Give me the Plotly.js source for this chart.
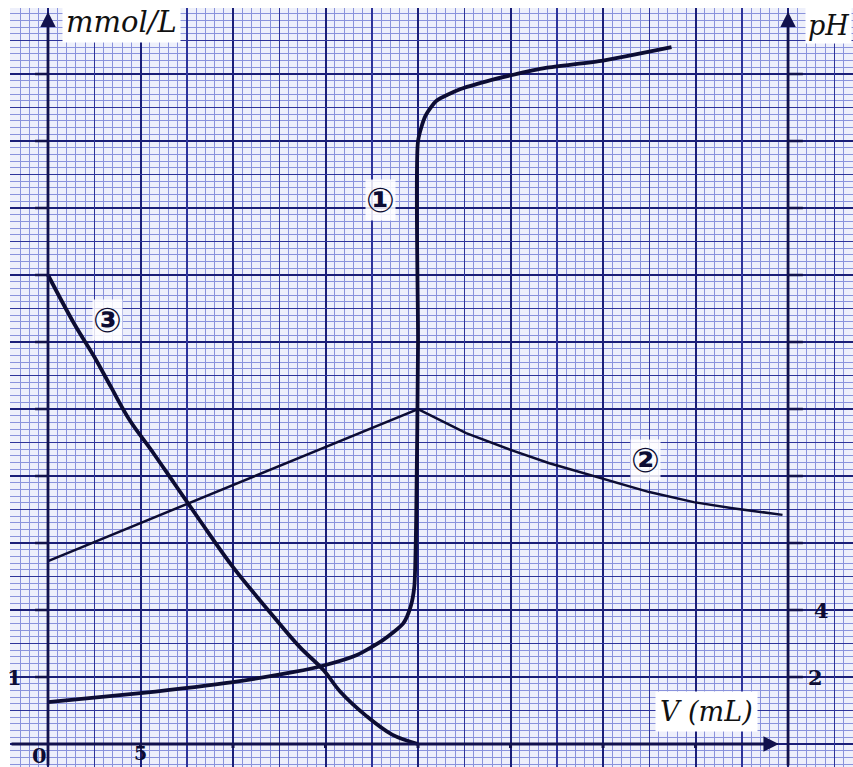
<!DOCTYPE html>
<html>
<head>
<meta charset="utf-8">
<script src="https://cdn.plot.ly/plotly-3.0.1.min.js"></script>
<style>html,body{margin:0;padding:0;background:#fff;}#chart{width:853px;height:767px;}</style>
</head>
<body>
<div id="chart"></div>
<script>
// Volume of titrant added (mL)
const volPH = [0, 5, 10, 13.3, 15, 16.7, 18.1, 19.2, 19.6, 19.8, 19.9, 20.0, 20.0, 20.4, 21.0, 22.3, 23.7, 25.1, 26.9, 30.0, 33.7];
// Curve 1: pH (right axis)
const pH = [1.25, 1.52, 1.85, 2.15, 2.36, 2.66, 3.1, 3.6, 4.1, 4.7, 6.7, 12.0, 18.0, 18.75, 19.2, 19.55, 19.78, 19.97, 20.18, 20.4, 20.8];

const vol2 = [0, 20, 22.6, 25, 27.1, 29.8, 32.5, 34.9, 37, 39.7];
// Curve 2: concentration (mmol/L, left axis)
const conc2 = [2.73, 5.0, 4.64, 4.39, 4.19, 3.97, 3.76, 3.61, 3.52, 3.42];

const vol3 = [0, 1.4, 2.5, 3.4, 4.4, 5.7, 6.8, 8.2, 10, 12.2, 13.6, 14.9, 15.8, 17.2, 18.6, 20];
// Curve 3: concentration (mmol/L, left axis)
const conc3 = [7.0, 6.28, 5.78, 5.33, 4.84, 4.34, 3.9, 3.34, 2.64, 1.9, 1.45, 1.1, 0.78, 0.42, 0.14, 0.0];

const curveLabels = ['\u2460', '\u2461', '\u2462'];
const xTickLabels = ['0', '5'];
const xTickVals = [0, 5];
const leftTickLabels = ['1'];
const leftTickVals = [1];
const rightTickLabels = ['2', '4'];
const rightTickVals = [2, 4];

const ink = '#0c0c33';
const axisInk = '#12124d';

const xr = [-2.054, 43.51];
const yr = [-0.343, 10.985];
const y2r = [yr[0] * 2, yr[1] * 2];

const traces = [
  {x: vol3, y: conc3, mode: 'lines', line: {color: ink, width: 3.8, shape: 'spline', smoothing: 1}, xaxis: 'x', yaxis: 'y', hoverinfo: 'skip'},
  {x: vol2, y: conc2, mode: 'lines', line: {color: ink, width: 2.5}, xaxis: 'x', yaxis: 'y', hoverinfo: 'skip'},
  {x: volPH, y: pH, mode: 'lines', line: {color: ink, width: 3.8, shape: 'spline', smoothing: 0.6}, xaxis: 'x2', yaxis: 'y2', hoverinfo: 'skip'}
];

const shapes = [];
for (let k = 1; k <= 10; k++) {
  shapes.push({type: 'line', xref: 'x', yref: 'y', x0: -0.7, x1: 0, y0: k, y1: k, line: {color: axisInk, width: 2.5}});
  shapes.push({type: 'line', xref: 'x', yref: 'y', x0: 40, x1: 0.8 + 40, y0: k, y1: k, line: {color: axisInk, width: 2.5}});
}
for (let v = 5; v <= 35; v += 5) {
  shapes.push({type: 'line', xref: 'x', yref: 'y', x0: v, x1: v, y0: 0, y1: -0.06, line: {color: axisInk, width: 3}});
}

const serif = 'DejaVu Serif, Liberation Serif, serif';
const hand = {family: serif, size: 21, color: ink, weight: 'bold'};
const handSmall = {family: serif, size: 19, color: ink, weight: 'bold'};
const circ = {family: 'DejaVu Sans', size: 34, color: ink, weight: 'bold'};
const annotations = [
  // axes arrows
  {x: 0, y: 10.93, ax: 0, ay: yr[0], xref: 'x', yref: 'y', axref: 'x', ayref: 'y', text: '', showarrow: true, arrowhead: 2, arrowsize: 1.1, arrowwidth: 2.8, arrowcolor: axisInk, standoff: 0},
  {x: 40, y: 10.93, ax: 40, ay: yr[0], xref: 'x', yref: 'y', axref: 'x', ayref: 'y', text: '', showarrow: true, arrowhead: 2, arrowsize: 1.1, arrowwidth: 2.8, arrowcolor: axisInk, standoff: 0},
  {x: 39.5, y: 0, ax: xr[0], ay: 0, xref: 'x', yref: 'y', axref: 'x', ayref: 'y', text: '', showarrow: true, arrowhead: 2, arrowsize: 1.1, arrowwidth: 2.8, arrowcolor: axisInk, standoff: 0},
  // axis titles
  {x: 0.75, y: 10.77, xref: 'x', yref: 'y', xanchor: 'left', yanchor: 'middle', text: '<i>mmol/L</i>', showarrow: false, font: {family: serif, size: 29, color: '#111'}, bgcolor: '#ffffff', borderpad: 3},
  {x: 40.9, y: 10.72, xref: 'x', yref: 'y', xanchor: 'left', yanchor: 'middle', text: '<i>pH</i>', showarrow: false, font: {family: serif, size: 27, color: '#111'}, bgcolor: '#ffffff', borderpad: 2},
  {x: 35.6, y: 0.48, xref: 'x', yref: 'y', xanchor: 'center', yanchor: 'middle', text: '<i>V (mL)</i>', showarrow: false, font: {family: serif, size: 27, color: '#111'}, bgcolor: '#ffffff', borderpad: 4},
  // tick labels
  {x: xTickVals[0] - 0.45, y: -0.17, xref: 'x', yref: 'y', text: xTickLabels[0], showarrow: false, font: hand},
  {x: xTickVals[1], y: -0.14, xref: 'x', yref: 'y', yanchor: 'middle', text: xTickLabels[1], showarrow: false, font: handSmall},
  {x: -1.8, y: leftTickVals[0], xref: 'x', yref: 'y', text: leftTickLabels[0], showarrow: false, font: hand},
  {x: 41.5, y: rightTickVals[0], xref: 'x', yref: 'y2', text: rightTickLabels[0], showarrow: false, font: hand},
  {x: 41.8, y: rightTickVals[1], xref: 'x', yref: 'y2', text: rightTickLabels[1], showarrow: false, font: hand},
  // curve labels
  {x: 17.95, y: 8.12, xref: 'x', yref: 'y', text: curveLabels[0], showarrow: false, font: circ, bgcolor: 'rgba(255,255,255,0.85)', borderpad: 0},
  {x: 32.3, y: 4.24, xref: 'x', yref: 'y', text: curveLabels[1], showarrow: false, font: circ, bgcolor: 'rgba(255,255,255,0.85)', borderpad: 0},
  {x: 3.24, y: 6.33, xref: 'x', yref: 'y', text: curveLabels[2], showarrow: false, font: circ, bgcolor: 'rgba(255,255,255,0.85)', borderpad: 0}
];

const hidden = {showticklabels: false, ticks: '', zeroline: false, showline: false, fixedrange: true};
const layout = {
  width: 853, height: 767,
  margin: {l: 10, r: 0, t: 8, b: 0, pad: 0},
  paper_bgcolor: '#ffffff',
  plot_bgcolor: '#eef0fb',
  showlegend: false,
  xaxis: Object.assign({}, hidden, {range: xr, tick0: 0, dtick: 5, showgrid: true, gridcolor: '#1b1f78', gridwidth: 2,
    minor: {tick0: 0, dtick: 0.5, showgrid: true, gridcolor: '#8a93dc', gridwidth: 1}}),
  yaxis: Object.assign({}, hidden, {range: yr, tick0: 0, dtick: 1, showgrid: true, gridcolor: '#1b1f78', gridwidth: 2,
    minor: {tick0: 0, dtick: 0.1, showgrid: true, gridcolor: '#8a93dc', gridwidth: 1}}),
  xaxis2: Object.assign({}, hidden, {range: xr, overlaying: 'x', anchor: 'y2', tick0: 2.5, dtick: 5, showgrid: true, gridcolor: '#2e349a', gridwidth: 1.5}),
  yaxis2: Object.assign({}, hidden, {range: y2r, overlaying: 'y', anchor: 'x2', side: 'right', tick0: 1, dtick: 2, showgrid: true, gridcolor: '#2e349a', gridwidth: 1.5}),
  shapes: shapes,
  annotations: annotations
};

Plotly.newPlot('chart', traces, layout, {displayModeBar: false, staticPlot: true});
</script>
</body>
</html>
